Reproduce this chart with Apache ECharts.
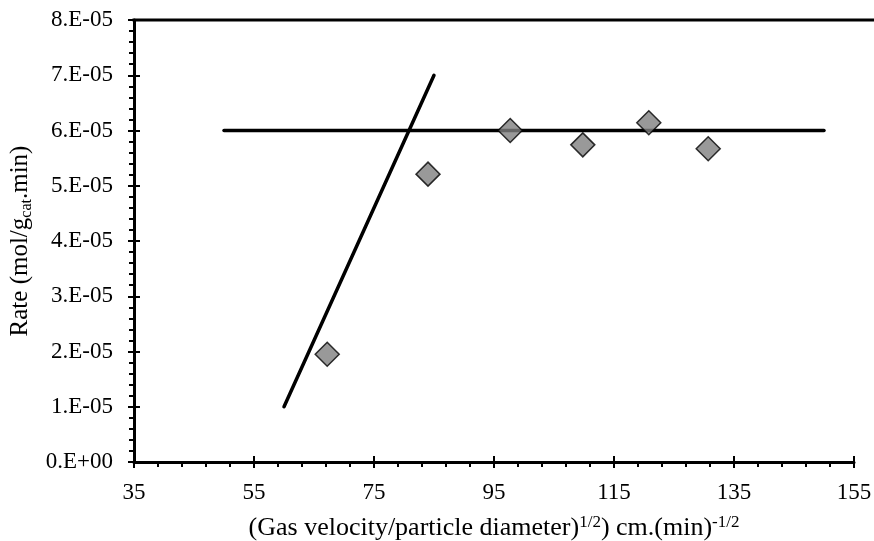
<!DOCTYPE html>
<html>
<head>
<meta charset="utf-8">
<script src="https://cdn.jsdelivr.net/npm/echarts@6/dist/echarts.min.js"></script>
<style>
  html, body { margin: 0; padding: 0; background: #fff; }
  #chart { width: 874px; height: 541px; }
</style>
</head>
<body>
<div id="chart"></div>
<script>
// measured points (x, rate)
const pointsX = [67.2, 84.0, 97.7, 109.8, 120.8, 130.7];
const pointsY = [1.95e-5, 5.21e-5, 6.0e-5, 5.74e-5, 6.14e-5, 5.67e-5];

// fitted lines
const plateauX = [50, 150];
const plateauY = [6e-5, 6e-5];
const slopeX = [60, 85];
const slopeY = [1e-5, 7e-5];

const yTickLabels = ["0.E+00", "1.E-05", "2.E-05", "3.E-05", "4.E-05", "5.E-05", "6.E-05", "7.E-05", "8.E-05"];

const zip = (xs, ys) => xs.map((x, i) => [x, ys[i]]);

const font = "Liberation Serif";
const chart = echarts.init(document.getElementById("chart"));

const gridLeft = 134, gridTop = 20;

let option = {
  animation: false,
  backgroundColor: "#fff",
  textStyle: { fontFamily: font, color: "#000" },
  grid: { left: gridLeft, right: 20, top: gridTop, bottom: 79, outerBoundsMode: "none", containLabel: false },
  xAxis: [
    {
      type: "value",
      min: 35,
      max: 155,
      interval: 20,
      name: "(Gas velocity/particle diameter){sup|1/2}) cm.(min){sup|-1/2}",
      nameLocation: "middle",
      nameGap: 52,
      nameTextStyle: {
        fontFamily: font,
        fontSize: 26,
        lineHeight: 28,
        color: "#000",
        rich: {
          sup: { fontFamily: font, fontSize: 17, color: "#000", verticalAlign: "top", lineHeight: 14 },
        },
      },
      axisLine: { show: true, lineStyle: { color: "#000", width: 3 } },
      axisTick: { show: true, inside: false, length: 6, lineStyle: { color: "#000", width: 2 } },
      minorTick: { show: true, splitNumber: 5, length: 5, lineStyle: { color: "#000", width: 2 } },
      splitLine: { show: false },
      axisLabel: { fontFamily: font, fontSize: 23, color: "#000", margin: 19 },
    },
    {
      // inner half of the major ticks
      type: "value",
      min: 35,
      max: 155,
      interval: 20,
      position: "bottom",
      axisLine: { show: false },
      axisTick: { show: true, inside: true, length: 6, lineStyle: { color: "#000", width: 2 } },
      axisLabel: { show: false },
      splitLine: { show: false },
    },
  ],
  yAxis: [
    {
      type: "value",
      min: 0,
      max: 8e-5,
      interval: 1e-5,
      name: "Rate (mol/g{sub|cat}.min)",
      nameLocation: "middle",
      nameGap: 98,
      nameTextStyle: {
        fontFamily: font,
        fontSize: 25,
        lineHeight: 28,
        color: "#000",
        rich: {
          sub: { fontFamily: font, fontSize: 16, color: "#000", verticalAlign: "bottom", lineHeight: 14 },
        },
      },
      axisLine: { show: true, lineStyle: { color: "#000", width: 3 } },
      axisTick: { show: true, inside: false, length: 6, lineStyle: { color: "#000", width: 2 } },
      minorTick: { show: true, splitNumber: 5, length: 5, lineStyle: { color: "#000", width: 2 } },
      splitLine: { show: false },
      axisLabel: {
        fontFamily: font,
        fontSize: 23,
        color: "#000",
        margin: 21,
        formatter: (v) => yTickLabels[Math.round(v / 1e-5)],
      },
    },
    {
      type: "value",
      min: 0,
      max: 8e-5,
      interval: 1e-5,
      position: "left",
      axisLine: { show: false },
      axisTick: { show: true, inside: true, length: 6, lineStyle: { color: "#000", width: 2 } },
      axisLabel: { show: false },
      splitLine: { show: false },
    },
  ],
  graphic: [
    {
      // top frame line, runs to the edge of the picture
      type: "line",
      shape: { x1: gridLeft - 1.5, y1: gridTop, x2: 874, y2: gridTop },
      style: { stroke: "#000", lineWidth: 3 },
      silent: true,
    },
  ],
  series: [
    {
      type: "line",
      data: zip(plateauX, plateauY),
      showSymbol: false,
      lineStyle: { color: "#000", width: 3.5, cap: "round" },
      z: 2,
    },
    {
      type: "line",
      data: zip(slopeX, slopeY),
      showSymbol: false,
      lineStyle: { color: "#000", width: 3.5, cap: "round" },
      z: 2,
    },
    {
      type: "scatter",
      data: zip(pointsX, pointsY),
      symbol: "diamond",
      symbolSize: [24, 24],
      itemStyle: { color: "#808080", borderColor: "#000", borderWidth: 1.5 },
      z: 3,
    },
  ],
};

chart.setOption(option);
</script>
</body>
</html>
